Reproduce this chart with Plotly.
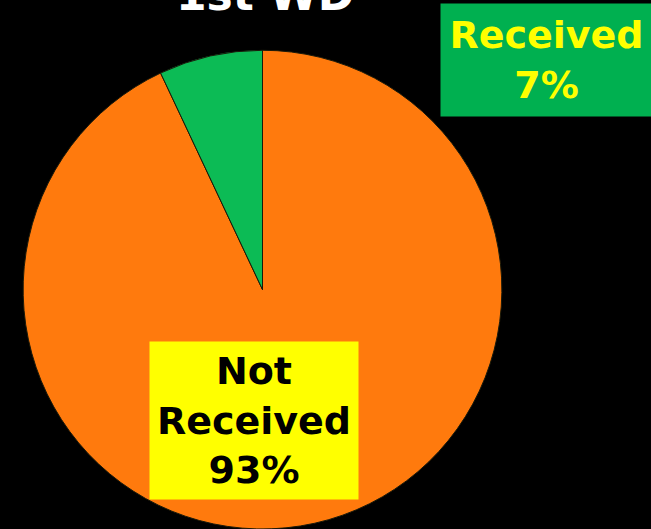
import plotly.graph_objects as go

labels = ["Not Received", "Received"]
values = [93, 7]
colors = ["#FF7A0D", "#0CBB55"]
title_text = "1st WD"

fig = go.Figure(go.Pie(
    labels=labels, values=values, sort=False, direction="clockwise",
    rotation=0, textinfo="none", hoverinfo="none",
    marker=dict(colors=colors, line=dict(color="#1a1a0a", width=1)),
    domain=dict(x=[22/651, 503/651], y=[0, 0.905]),
    showlegend=False,
))

fnt = "DejaVu Sans"
fig.add_annotation(xref="paper", yref="paper", x=265/651, y=1-22/529,
                   xanchor="center", yanchor="bottom", showarrow=False,
                   text="<b>%s</b>" % title_text,
                   font=dict(family=fnt, size=44, color="white"))
fig.add_annotation(xref="paper", yref="paper", x=440/651, y=1-3/529,
                   xanchor="left", yanchor="top", showarrow=False,
                   text="<b>%s<br>%d%%</b>" % (labels[1], values[1]),
                   width=211, height=112, borderpad=0, bgcolor="#00B050",
                   font=dict(family=fnt, size=38, color="#FFFF00"))
fig.add_annotation(xref="paper", yref="paper", x=149/651, y=1-341/529,
                   xanchor="left", yanchor="top", showarrow=False,
                   text="<b>Not<br>Received<br>%d%%</b>" % values[0],
                   width=208, height=157, borderpad=0, bgcolor="#FFFF00",
                   font=dict(family=fnt, size=38, color="black"))

fig.update_layout(width=651, height=529, margin=dict(l=0, r=0, t=0, b=0),
                  paper_bgcolor="black", plot_bgcolor="black")
fig.write_html("out.html", config={"displayModeBar": False},
               post_script="document.body.style.margin='0';document.body.style.background='black';")
